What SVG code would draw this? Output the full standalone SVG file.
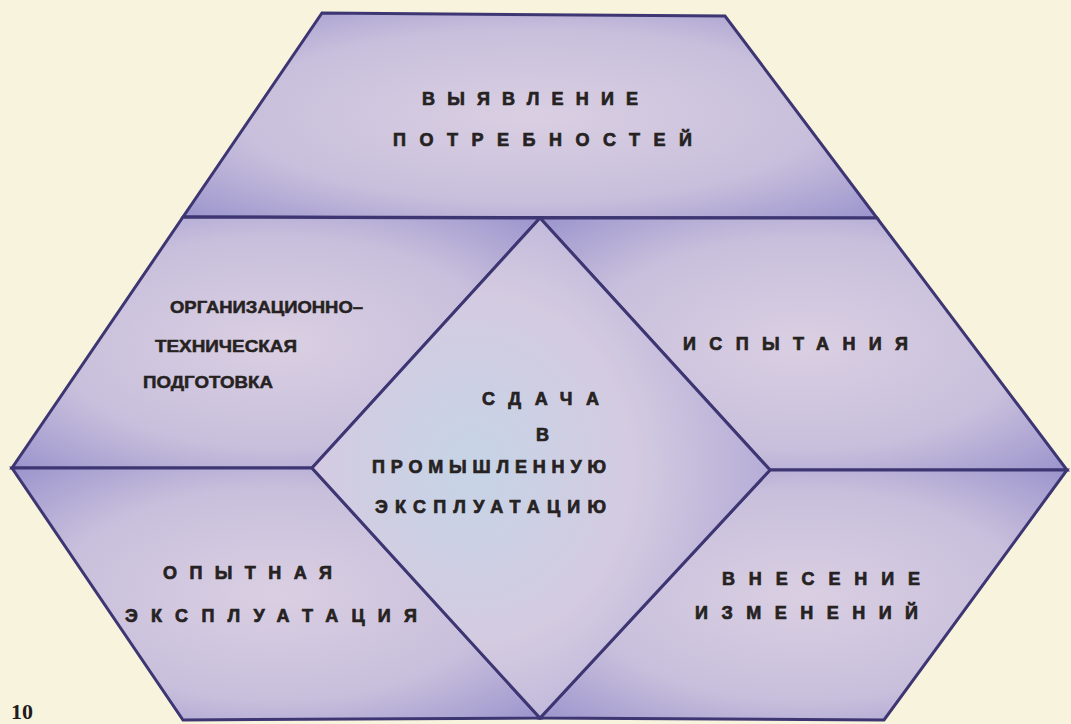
<svg xmlns="http://www.w3.org/2000/svg" width="1071" height="724" viewBox="0 0 1071 724">
<defs>
<radialGradient id="g" cx="0.5" cy="0.5" r="0.7">
<stop offset="0" stop-color="#dacfe2"/>
<stop offset="0.6" stop-color="#c8bfdc"/>
<stop offset="1" stop-color="#9c95cd"/>
</radialGradient>
<radialGradient id="gc" cx="0.35" cy="0.5" r="0.7">
<stop offset="0" stop-color="#c6d4e6"/>
<stop offset="0.5" stop-color="#d4cbe1"/>
<stop offset="1" stop-color="#b0a8d5"/>
</radialGradient>
<style>
.r{fill:url(#g);stroke:#3d3672;stroke-width:3;stroke-linejoin:miter}
.c{fill:url(#gc);stroke:#3d3672;stroke-width:3}
.t{font-family:"Liberation Sans",Arial,sans-serif;font-weight:bold;font-size:18px;fill:#262222;stroke:#262222;stroke-width:0.7}
.s{font-family:"Liberation Sans",Arial,sans-serif;font-weight:bold;font-size:17px;fill:#262222;stroke:#262222;stroke-width:0.5}
</style>
</defs>
<rect x="0" y="0" width="1071" height="724" fill="#f8f3dd"/>
<g id="top">
<polygon class="r" points="322,13 725,16 877,218 183,217"/>
<text class="t" x="422" y="105" textLength="216" lengthAdjust="spacing">ВЫЯВЛЕНИЕ</text>
<text class="t" x="393" y="146" textLength="299" lengthAdjust="spacing">ПОТРЕБНОСТЕЙ</text>
</g>
<g id="upper-left">
<polygon class="r" points="183,217 540,218 312,468 12,468"/>
<text class="s" x="170" y="313" textLength="193" lengthAdjust="spacingAndGlyphs">ОРГАНИЗАЦИОННО–</text>
<text class="s" x="155" y="352" textLength="142" lengthAdjust="spacingAndGlyphs">ТЕХНИЧЕСКАЯ</text>
<text class="s" x="143" y="388" textLength="130" lengthAdjust="spacingAndGlyphs">ПОДГОТОВКА</text>
</g>
<g id="upper-right">
<polygon class="r" points="540,218 877,218 1067,470 770,470"/>
<text class="t" x="683" y="350" textLength="225" lengthAdjust="spacing">ИСПЫТАНИЯ</text>
</g>
<g id="lower-left">
<polygon class="r" points="12,468 312,468 540,718 183,720"/>
<text class="t" x="163" y="579" textLength="169" lengthAdjust="spacing">ОПЫТНАЯ</text>
<text class="t" x="125" y="622" textLength="292" lengthAdjust="spacing">ЭКСПЛУАТАЦИЯ</text>
</g>
<g id="lower-right">
<polygon class="r" points="770,470 1067,470 884,720 540,718"/>
<text class="t" x="722" y="585" textLength="198" lengthAdjust="spacing">ВНЕСЕНИЕ</text>
<text class="t" x="695" y="619" textLength="223" lengthAdjust="spacing">ИЗМЕНЕНИЙ</text>
</g>
<g id="center">
<polygon class="c" points="540,218 770,470 540,718 312,468"/>
<text class="t" x="482" y="405" textLength="117" lengthAdjust="spacing">СДАЧА</text>
<text class="t" x="536" y="441">В</text>
<text class="t" x="372" y="473" textLength="234" lengthAdjust="spacing">ПРОМЫШЛЕННУЮ</text>
<text class="t" x="375" y="513" textLength="231" lengthAdjust="spacing">ЭКСПЛУАТАЦИЮ</text>
</g>
<g id="connectors"></g>
<text x="11" y="719" font-family="Liberation Serif,serif" font-weight="bold" font-size="22" fill="#1e1c1c">10</text>
</svg>
